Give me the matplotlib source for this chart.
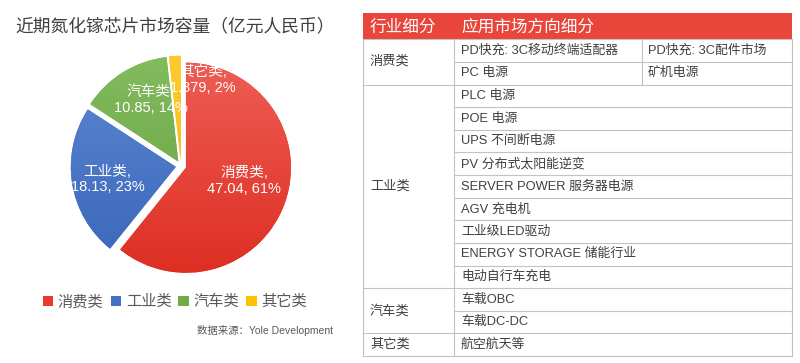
import matplotlib
matplotlib.use("Agg")
import matplotlib.pyplot as plt
import numpy as np
from matplotlib.colors import LinearSegmentedColormap
from matplotlib.patches import Rectangle

plt.rcParams['font.family'] = ['Liberation Sans', 'Noto Sans CJK SC', 'DejaVu Sans']

# data
categories = ["消费类", "工业类", "汽车类", "其它类"]
values = [47.04, 18.13, 10.85, 1.379]
percents = ["61%", "23%", "14%", "2%"]
title = "近期氮化镓芯片市场容量（亿元人民币）"
source = "数据来源：Yole Development"

header = ["行业细分", "应用市场方向细分"]
groups = ["消费类", "工业类", "汽车类", "其它类"]
group_rows = [
    [("PD快充: 3C移动终端适配器", "PD快充: 3C配件市场"), ("PC 电源", "矿机电源")],
    ["PLC 电源", "POE 电源", "UPS 不间断电源", "PV 分布式太阳能逆变",
     "SERVER POWER 服务器电源", "AGV 充电机", "工业级LED驱动",
     "ENERGY STORAGE 储能行业", "电动自行车充电"],
    ["车载OBC", "车载DC-DC"],
    ["航空航天等"],
]

# styles
W, H = 800, 363
colors = ["#e8392d", "#4472c4", "#70ad47", "#ffc000"]
grad_top = ["#f0625a", "#5f8ad4", "#86bd62", "#ffcc33"]
grad_bot = ["#dc2a1e", "#3763b8", "#5e9e3a", "#f2b200"]
label_pos = [(0.60, -0.14), (-0.70, -0.13), (-0.29, 0.63), (0.21, 0.82)]
text_dark = "#404040"
grid_c = "#c3c3c3"

fig = plt.figure(figsize=(W / 100, H / 100), dpi=100)

# full-figure pixel axes for title, table, source
bg = fig.add_axes([0, 0, 1, 1])
bg.set_xlim(0, W)
bg.set_ylim(H, 0)
bg.axis("off")

bg.text(15, 27, title, fontsize=12.8, color=text_dark, va="center", ha="left")
bg.text(197, 331, source, fontsize=7.5, color="#595959", va="center", ha="left")

# table
x0, x1, xs, x2 = 363, 454, 642, 792
hy0, hy1 = 13, 39.3
rh = 22.63
bg.add_patch(Rectangle((x0, hy0), x2 - x0, hy1 - hy0, color="#e9463b", lw=0))
bg.text(x0 + 7, (hy0 + hy1) / 2 + 1, header[0], fontsize=12, color="white", va="center")
bg.text(x1 + 7, (hy0 + hy1) / 2 + 1, header[1], fontsize=12, color="white", va="center")

fs = 9.3
lw = 0.8
y = hy1
bg.plot([x0, x2], [y, y], color=grid_c, lw=lw)
for g, rows in zip(groups, group_rows):
    ytop = y
    for i, r in enumerate(rows):
        yc = y + rh / 2
        if isinstance(r, tuple):
            bg.text(x1 + 7, yc, r[0], fontsize=fs, color=text_dark, va="center")
            bg.text(xs + 6, yc, r[1], fontsize=fs, color=text_dark, va="center")
            bg.plot([xs, xs], [y, y + rh], color=grid_c, lw=lw)
        else:
            bg.text(x1 + 7, yc, r, fontsize=fs, color=text_dark, va="center")
        y += rh
        if i < len(rows) - 1:
            bg.plot([x1, x2], [y, y], color=grid_c, lw=lw)
    bg.plot([x0, x2], [y, y], color=grid_c, lw=lw)
    bg.text(x0 + 7, (ytop + y) / 2, g, fontsize=9.5, color=text_dark, va="center")
for xv in (x0, x1, x2):
    bg.plot([xv, xv], [hy1, y], color=grid_c, lw=lw)

# pie
cx, cy, R = 181, 166, 105
half = 1.2 * R
ax = fig.add_axes([(cx - half) / W, 1 - (cy + half) / H, 2 * half / W, 2 * half / H])
wedges, _ = ax.pie(values, colors=colors, startangle=90, counterclock=False,
                   explode=[0.05] * 4, radius=1)
ax.set_aspect("equal")
ax.axis("off")

grad = np.linspace(1, 0, 256).reshape(-1, 1)
for w, c0, c1 in zip(wedges, grad_top, grad_bot):
    cmap = LinearSegmentedColormap.from_list("g", [c1, c0])
    im = ax.imshow(grad, extent=[-1.2, 1.2, -1.2, 1.2], cmap=cmap, aspect="auto",
                   origin="upper", zorder=w.get_zorder() + 0.1)
    im.set_clip_path(w)
ax.set_xlim(-1.2, 1.2)
ax.set_ylim(-1.2, 1.2)

for (lx, ly), cat, v, p in zip(label_pos, categories, values, percents):
    vs = f"{v:g}"
    ax.text(lx, ly, f"{cat},\n{vs}, {p}", fontsize=10.5, color="white",
            ha="center", va="center", multialignment="center", linespacing=1.15,
            zorder=10)

fig.legend(wedges, categories, loc="center", bbox_to_anchor=(175 / W, 1 - 302 / H),
           ncol=4, frameon=False, fontsize=11, handlelength=0.7, handleheight=0.7,
           handletextpad=0.3, columnspacing=0.45, labelcolor="#595959",
           borderaxespad=0)

fig.savefig("out.png", dpi=100)
